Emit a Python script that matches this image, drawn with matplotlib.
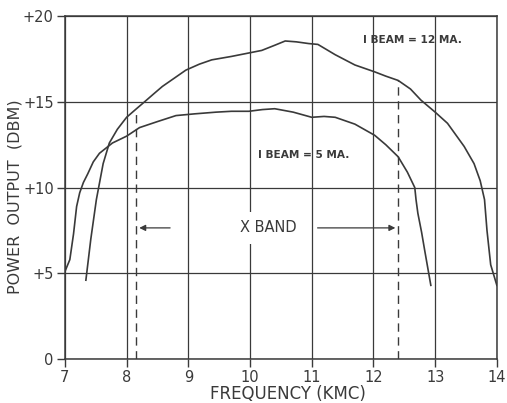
import matplotlib.pyplot as plt

# 12 mA beam current curve
f_12 = [7.34, 7.42, 7.51, 7.62, 7.72, 7.85, 8.0, 8.16, 8.29, 8.45, 8.58, 8.78, 8.96, 9.18,
        9.38, 9.7, 9.98, 10.19, 10.4, 10.57, 10.75, 10.95, 11.1, 11.38, 11.7, 12.02, 12.2,
        12.4, 12.6, 12.77, 13.0, 13.2, 13.47, 13.63, 13.73, 13.8, 13.84, 13.9, 14.0]
p_12 = [4.6, 7.0, 9.3, 11.4, 12.6, 13.4, 14.1, 14.6, 15.0, 15.5, 15.9, 16.4, 16.85, 17.2,
        17.45, 17.65, 17.85, 18.0, 18.3, 18.55, 18.5, 18.4, 18.35, 17.75, 17.15, 16.75, 16.5,
        16.25, 15.75, 15.1, 14.4, 13.75, 12.4, 11.4, 10.4, 9.3, 7.5, 5.5, 4.3]

# 5 mA beam current curve
f_5 = [7.0, 7.08, 7.14, 7.19, 7.24, 7.3, 7.37, 7.46, 7.56, 7.77, 8.0, 8.21, 8.5, 8.8, 9.1,
       9.45, 9.7, 9.98, 10.2, 10.4, 10.7, 11.0, 11.2, 11.38, 11.7, 12.02, 12.2, 12.4, 12.55,
       12.67, 12.69, 12.72, 12.78, 12.83, 12.93]
p_5 = [5.1, 5.8, 7.3, 8.9, 9.7, 10.3, 10.8, 11.5, 12.0, 12.6, 13.0, 13.5, 13.85, 14.2, 14.3,
       14.4, 14.45, 14.45, 14.55, 14.6, 14.4, 14.1, 14.15, 14.1, 13.7, 13.05, 12.5, 11.8, 10.9,
       10.0, 9.3, 8.5, 7.4, 6.35, 4.3]

# X band limits (dashed markers)
band_lo, band_hi = 8.16, 12.4
band_lo_top, band_hi_top = 14.6, 16.25

xticks = [7, 8, 9, 10, 11, 12, 13, 14]
yticks = [0, 5, 10, 15, 20]
ytick_labels = ['0', '+5', '+10', '+15', '+20']

ink = '#3a3a3a'

fig = plt.figure(figsize=(5.07, 4.03), dpi=100)
ax = fig.add_axes([0.128, 0.109, 0.852, 0.851])

ax.set_xlim(7, 14)
ax.set_ylim(0, 20)
ax.set_xticks(xticks)
ax.set_yticks(yticks)
ax.set_yticklabels(ytick_labels)
ax.tick_params(colors=ink, labelsize=10.5, length=6, width=1)
ax.tick_params(axis='x', pad=2)
ax.tick_params(axis='y', pad=2)
for s in ax.spines.values():
    s.set_color(ink)
    s.set_linewidth(1.1)

ax.grid(True, color=ink, linewidth=0.9)

ax.plot(f_12, p_12, color=ink, lw=1.2)
ax.plot(f_5, p_5, color=ink, lw=1.2)

# dashed band edges
ax.plot([band_lo, band_lo], [0, band_lo_top], color=ink, lw=1.0, ls=(0, (6, 4)))
ax.plot([band_hi, band_hi], [0, band_hi_top], color=ink, lw=1.0, ls=(0, (6, 4)))

# X BAND label with arrows
ax.text(10.3, 7.65, 'X BAND', ha='center', va='center', fontsize=10.5, color=ink,
        bbox=dict(facecolor='white', edgecolor='none', pad=6))
ax.annotate('', xy=(band_lo, 7.65), xytext=(8.75, 7.65),
            arrowprops=dict(arrowstyle='-|>', color=ink, lw=0.9, mutation_scale=9))
ax.annotate('', xy=(band_hi, 7.65), xytext=(11.05, 7.65),
            arrowprops=dict(arrowstyle='-|>', color=ink, lw=0.9, mutation_scale=9))

ax.text(12.64, 18.6, 'I BEAM = 12 MA.', ha='center', va='center', fontsize=7.6,
        color=ink, fontweight='bold')
ax.text(10.87, 11.9, 'I BEAM = 5 MA.', ha='center', va='center', fontsize=7.6,
        color=ink, fontweight='bold')

fig.text(288 / 507, 1 - 394 / 403, 'FREQUENCY (KMC)', ha='center', va='center',
         fontsize=12, color=ink)
fig.text(15 / 507, 1 - 197 / 403, 'POWER  OUTPUT  (DBM)', ha='center', va='center',
         rotation=90, fontsize=11.5, color=ink)

fig.savefig('out.png', dpi=100)
